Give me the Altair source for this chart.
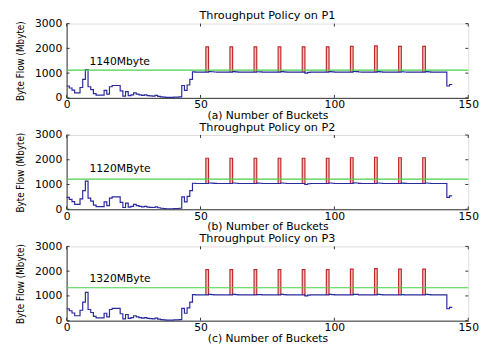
import altair as alt
import pandas as pd

# ---------------- data ----------------
buckets = list(range(0, 145))
flow = [
    480, 400, 310, 200, 200, 420, 750, 1140, 450, 330,      # 0-9
    170, 110, 110, 110, 300, 150, 450, 500, 500, 500,       # 10-19
    280, 70, 250, 90, 120, 200, 150, 120, 100, 120,         # 20-29
    90, 80, 70, 100, 60, 40, 30, 20, 20, 20,                # 30-39
    30, 30, 40, 500, 300, 520, 750, 1050, 1040, 1040,       # 40-49
    1040, 1040, 1040, 1060, 1055, 1045, 1040, 1040, 1040, 1040,  # 50-59
    1040, 1040, 1060, 1050, 1040, 1040, 1040, 1040, 1040, 1040,  # 60-69
    1040, 1055, 1050, 1040, 1040, 1040, 1040, 1040, 1040, 1040,  # 70-79
    1060, 1050, 1040, 1040, 1040, 1040, 1040, 1040, 1040, 1000,  # 80-89
    1030, 1040, 1040, 1040, 1040, 1040, 1040, 1040, 1060, 1050,  # 90-99
    1040, 1040, 1040, 1040, 1040, 1040, 1040, 1065, 1060, 1045,  # 100-109
    1040, 1040, 1040, 1040, 1040, 1040, 1060, 1050, 1040, 1040,  # 110-119
    1040, 1040, 1040, 1040, 1040, 1055, 1045, 1040, 1040, 1040,  # 120-129
    1040, 1040, 1040, 1040, 1060, 1050, 1040, 1040, 1040, 1040,  # 130-139
    1040, 1040, 480, 540, 540,                                   # 140-144
]
spike_start = [52, 61, 70, 79, 88, 97, 106, 115, 124, 133]
spike_top = [2060, 2060, 2060, 2060, 2060, 2060, 2080, 2100, 2080, 2080]

thresholds = [1120, 1220, 1330]
labels = ["1140Mbyte", "1120MByte", "1320MByte"]
label_x = [8.5, 8.5, 8.5]
label_y = [1440, 1640, 1680]
titles = ["Throughput Policy on P1", "Throughput Policy on P2", "Throughput Policy on P3"]
xtitles = ["(a) Number of Buckets", "(b) Number of Buckets", "(c) Number of Buckets"]
x_ticks = [0, 50, 100, 150]
y_ticks = [0, 1000, 2000, 3000]

# ---------------- layout / style ----------------
W, H = 411, 76
XMAX, YMAX = 150, 3000
TICK_PX = 3
FONT = "DejaVu Sans"
NARROW = "Liberation Sans Narrow, DejaVu Sans Condensed, sans-serif"
FS = 11
BLUE = "#2a2a9c"
RED = "#c02828"
PINK = "#f2c4c4"
GREEN = "#49d249"
AXC = "#333333"

flow_df = pd.DataFrame({"b": buckets, "v": flow})

red_rows = []
rect_rows = []
for i, (s, h) in enumerate(zip(spike_start, spike_top)):
    pts = [(s, flow[s]), (s, h), (s + 1, h), (s + 1, flow[s + 1])]
    for k, (px, py) in enumerate(pts):
        red_rows.append({"id": i, "k": k, "b": px, "v": py})
    rect_rows.append({"b": s, "b2": s + 1, "v": flow[s], "v2": h})
red_df = pd.DataFrame(red_rows)
rect_df = pd.DataFrame(rect_rows)

tx = XMAX * TICK_PX / W
ty = YMAX * TICK_PX / H
xt_df = pd.DataFrame({"t": x_ticks * 2,
                      "a": [0] * 4 + [YMAX - ty] * 4,
                      "a2": [ty] * 4 + [YMAX] * 4})
yt_df = pd.DataFrame({"t": y_ticks * 2,
                      "a": [0] * 4 + [XMAX - tx] * 4,
                      "a2": [tx] * 4 + [XMAX] * 4})

xscale = alt.Scale(domain=[0, XMAX], nice=False, zero=False)
yscale = alt.Scale(domain=[0, YMAX], nice=False)


def panel(i):
    xax = alt.Axis(values=x_ticks, title=xtitles[i], ticks=False, grid=False,
                   format="d", labelOverlap=False, labelFlush=False,
                   labelPadding=1, titlePadding=0, labelFontSize=FS, titleFontSize=FS,
                   titleFontWeight="normal", labelFont=FONT, titleFont=FONT,
                   labelColor="black", titleColor="black", domainColor=AXC)
    yax = alt.Axis(values=y_ticks, title="Byte Flow (Mbyte)", ticks=False, grid=False,
                   format="d", labelOverlap=False, labelFlush=False,
                   labelPadding=5, titlePadding=9, labelFontSize=FS, titleFontSize=10,
                   titleFontWeight="normal", labelFont=FONT, titleFont=NARROW,
                   labelColor="black", titleColor="black", domainColor=AXC)
    X = lambda f: alt.X(f, scale=xscale, axis=xax)
    Y = lambda f: alt.Y(f, scale=yscale, axis=yax)

    base = alt.Chart(flow_df).mark_line(color=BLUE, strokeWidth=1.2,
                                        interpolate="step-after").encode(
        x=X("b:Q"), y=Y("v:Q"))
    rects = alt.Chart(rect_df).mark_rect(color=PINK).encode(
        x=X("b:Q"), x2="b2:Q", y=Y("v:Q"), y2="v2:Q")
    red = alt.Chart(red_df).mark_line(color=RED, strokeWidth=1.2).encode(
        x=X("b:Q"), y=Y("v:Q"), detail="id:N", order="k:Q")
    thr_df = pd.DataFrame({"thr": [thresholds[i]]})
    green = alt.Chart(thr_df).mark_rule(color=GREEN, strokeWidth=1.2).encode(
        y=Y("thr:Q"))
    lab_df = pd.DataFrame({"x": [label_x[i]], "y": [label_y[i]], "t": [labels[i]]})
    text = alt.Chart(lab_df).mark_text(align="left", baseline="middle", font=FONT,
                                       fontSize=FS, color="black").encode(
        x=X("x:Q"), y=Y("y:Q"), text="t:N")
    # inward MATLAB-style ticks
    xt = alt.Chart(xt_df).mark_rule(color=AXC).encode(x=X("t:Q"), y=Y("a:Q"), y2="a2:Q")
    yt = alt.Chart(yt_df).mark_rule(color=AXC).encode(y=Y("t:Q"), x=X("a:Q"), x2="a2:Q")

    return alt.layer(rects, red, base, green, text, xt, yt).properties(
        width=W, height=H,
        title=alt.TitleParams(titles[i], fontSize=11.5, font=FONT, fontWeight="normal",
                              color="black", offset=-4, anchor="middle"),
    )


chart = alt.vconcat(panel(0), panel(1), panel(2), spacing=0).properties(
    padding={"left": 7, "top": -2, "right": 0, "bottom": 0}
).configure_view(stroke=AXC, strokeWidth=1).configure(background="white")

chart.save("out.html", embed_options={"renderer": "svg", "actions": False})
